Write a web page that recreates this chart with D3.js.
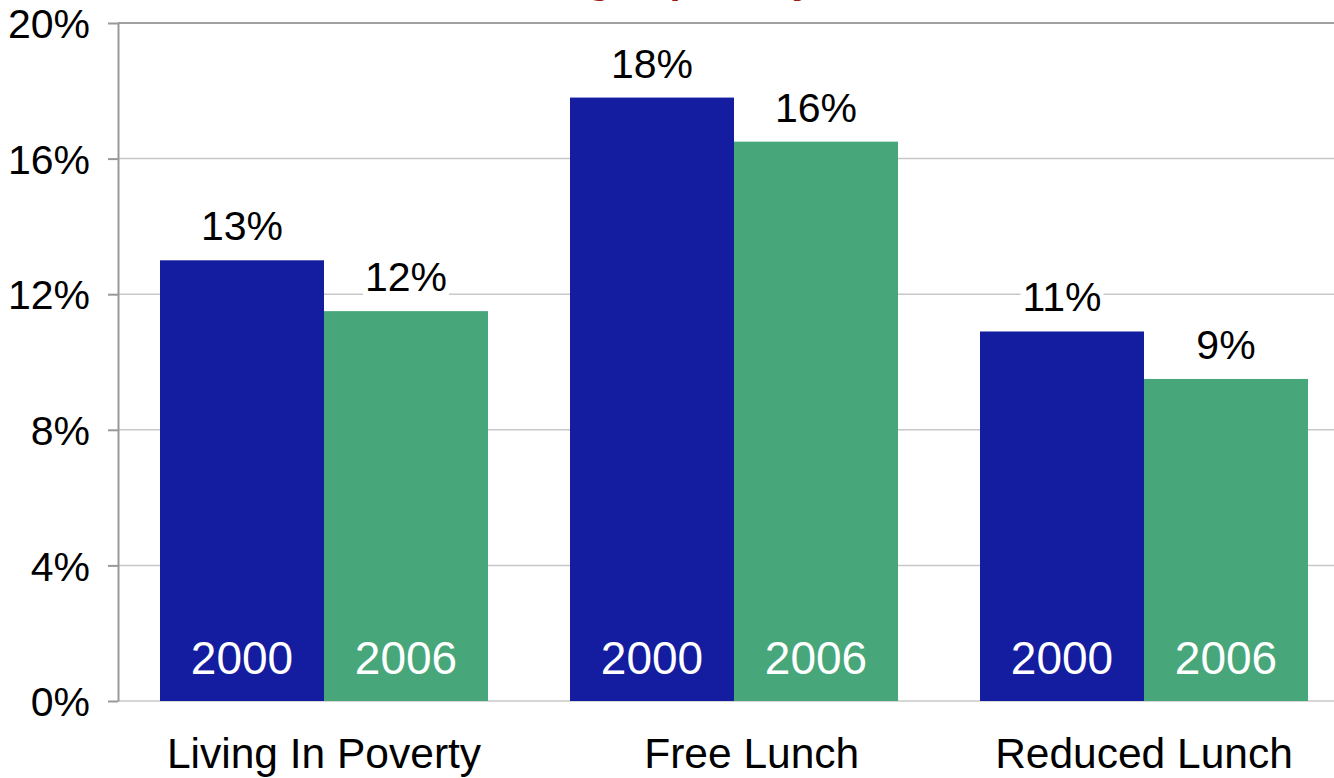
<!DOCTYPE html>
<html>
<head>
<meta charset="utf-8">
<script src="https://cdn.jsdelivr.net/npm/d3@7"></script>
<style>
html,body{margin:0;padding:0;background:#fff;}
svg{display:block;font-family:"Liberation Sans",Arial,sans-serif;}
.cat{white-space:pre;}
</style>
</head>
<body>
<svg id="chart" width="1334" height="778"></svg>
<script>
const categories = ["Living In Poverty", "Free Lunch", "Reduced Lunch"];
const categoryLabels = ["Living In Poverty", "   Free Lunch", "Reduced Lunch"];
const years = ["2000", "2006"];
const values2000 = [13.0, 17.8, 10.9];
const values2006 = [11.5, 16.5, 9.5];
const labels2000 = ["13%", "18%", "11%"];
const labels2006 = ["12%", "16%", "9%"];
const yTicks = [0, 4, 8, 12, 16, 20];
const titleText = "Students living in poverty";
const colors = ["#141c9f", "#47a77a"];

const svg = d3.select("#chart");
const x = d3.scaleBand().domain(categories).range([119, 1349]).paddingInner(0.2).paddingOuter(0.1);
const xs = d3.scaleBand().domain(years).range([0, x.bandwidth()]);
const y = d3.scaleLinear().domain([0, 20]).range([701, 23]);

// title (mostly clipped above the page, as in the reference)
svg.append("text")
  .attr("x", 325).attr("y", -7)
  .attr("text-anchor", "start")
  .attr("font-size", 40).attr("font-weight", "bold")
  .attr("fill", "#9a1a0e")
  .text(titleText);

// gridlines
svg.append("g").selectAll("line").data(yTicks).join("line")
  .attr("x1", 118).attr("x2", 1334)
  .attr("y1", d => y(d)).attr("y2", d => y(d))
  .attr("stroke", d => d === 20 ? "#a0a0a0" : "#c8c8c8")
  .attr("stroke-width", d => d === 20 ? 2 : 1.5);

// y axis
const yAxis = d3.axisLeft(y).tickValues(yTicks).tickFormat(d => d + "%")
  .tickSizeInner(10).tickSizeOuter(0).tickPadding(18);
const ga = svg.append("g").attr("transform", "translate(118,0)").call(yAxis);
ga.select(".domain").attr("stroke", "#999").attr("stroke-width", 2);
ga.selectAll(".tick line").attr("stroke", "#999").attr("stroke-width", 2);
ga.selectAll(".tick text").attr("font-size", 41).attr("fill", "#000")
  .attr("font-family", "Liberation Sans, Arial, sans-serif").attr("dy", "0.36em");

const data = [];
categories.forEach((c, i) => {
  data.push({cat: c, year: "2000", v: values2000[i], lab: labels2000[i], col: colors[0]});
  data.push({cat: c, year: "2006", v: values2006[i], lab: labels2006[i], col: colors[1]});
});

svg.append("g").selectAll("rect").data(data).join("rect")
  .attr("x", d => x(d.cat) + xs(d.year))
  .attr("width", xs.bandwidth())
  .attr("y", d => y(d.v))
  .attr("height", d => y(0) - y(d.v))
  .attr("fill", d => d.col);

// year labels in bars
svg.append("g").selectAll("text").data(data).join("text")
  .attr("x", d => x(d.cat) + xs(d.year) + xs.bandwidth() / 2)
  .attr("y", y(0) - 27)
  .attr("text-anchor", "middle")
  .attr("font-size", 46).attr("fill", "#fff")
  .text(d => d.year);

// value labels with white background
const vl = svg.append("g").selectAll("g").data(data).join("g");
vl.append("rect").attr("fill", "#fff");
vl.append("text")
  .attr("x", d => x(d.cat) + xs(d.year) + xs.bandwidth() / 2)
  .attr("y", d => y(d.v) - 20)
  .attr("text-anchor", "middle")
  .attr("font-size", 41).attr("fill", "#000")
  .text(d => d.lab);
vl.each(function() {
  const g = d3.select(this);
  const b = g.select("text").node().getBBox();
  g.select("rect").attr("x", b.x - 2).attr("y", b.y + 4).attr("width", b.width + 4).attr("height", b.height - 6);
});

// category labels
svg.append("g").selectAll("text").data(categories).join("text")
  .attr("class", "cat")
  .attr("x", d => x(d) + x.bandwidth() / 2)
  .attr("y", 768)
  .attr("text-anchor", "middle")
  .attr("font-size", 42.5).attr("fill", "#000")
  .text((d, i) => categoryLabels[i]);
</script>
</body>
</html>
